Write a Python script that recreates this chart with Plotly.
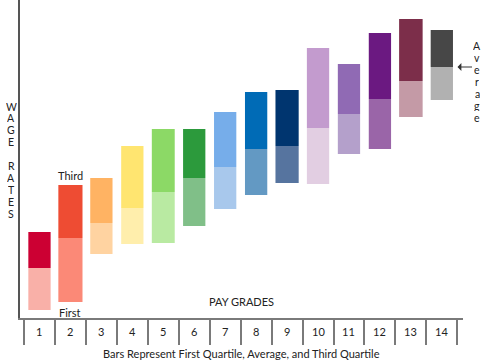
import plotly.graph_objects as go

# ---- data (wage units, arbitrary scale) ----
grades = ["1", "2", "3", "4", "5", "6", "7", "8", "9", "10", "11", "12", "13", "14"]
first_quartile = [8, 16, 64, 74, 75, 92, 109, 123, 135, 134, 164, 169, 201, 218]
average = [50, 80, 95, 110, 126, 140, 151, 169, 172, 190, 204, 219, 237, 251]
third_quartile = [86, 133, 140, 172, 189, 189, 206, 226, 228, 270, 254, 285, 299, 288]

upper_colors = ["#CC0033", "#EE4C33", "#FFB363", "#FFE570", "#8CD966", "#2C9A3C", "#76ADEA",
                "#006BB6", "#00356F", "#C39BCE", "#906AB4", "#6B1981", "#7C2E4A", "#474747"]
lower_colors = ["#F9B0A8", "#FB8977", "#FFD3A1", "#FFEEAC", "#B9EAA2", "#80BF88", "#A8C8EC",
                "#6399C3", "#56749F", "#E2CEE2", "#B4A0CB", "#9A65A8", "#C49AA6", "#B1B1B1"]
bar_widths = [0.72, 0.78, 0.72, 0.72, 0.74, 0.72, 0.72, 0.72, 0.75, 0.72, 0.72, 0.72, 0.76, 0.72]

FONT = "Lato"
TXT = "#222222"

lower_len = [a - f for a, f in zip(average, first_quartile)]
upper_len = [t - a for t, a in zip(third_quartile, average)]

fig = go.Figure()
fig.add_trace(go.Bar(x=grades, y=lower_len, base=first_quartile, width=bar_widths,
                     marker=dict(color=lower_colors, line=dict(width=0)), showlegend=False,
                     hoverinfo="skip"))
fig.add_trace(go.Bar(x=grades, y=upper_len, base=average, width=bar_widths,
                     marker=dict(color=upper_colors, line=dict(width=0)), showlegend=False,
                     hoverinfo="skip"))

W, H = 490, 360
L, R, T, B = 20, 27, 0, 42
pw = W - L - R
ph = H - T - B
catw = 30.95
x0 = -0.5 - 4 / catw
x1 = x0 + pw / catw


def px(xp):
    return (xp - L) / pw


def py(yp):
    return (ph - (yp - T)) / ph


ann = []
# tick labels between boundary ticks (category axis: annotations use the index)
for i, g in enumerate(grades):
    ann.append(dict(x=i, xref="x", y=py(331), yref="paper", text=g, showarrow=False,
                    font=dict(family=FONT, size=11, color=TXT), yanchor="middle"))
# bottom caption
ann.append(dict(x=px(241), xref="paper", y=py(353), yref="paper",
                text="Bars Represent First Quartile, Average, and Third Quartile",
                showarrow=False, font=dict(family=FONT, size=11, color=TXT), yanchor="middle"))
# PAY GRADES
ann.append(dict(x=px(241), xref="paper", y=py(301.5), yref="paper", text="PAY GRADES",
                showarrow=False, font=dict(family=FONT, size=11, color=TXT), yanchor="middle"))
# Third / First labels on grade 2
ann.append(dict(x=1, y=third_quartile[1], text="Third", showarrow=False, yshift=10,
                font=dict(family=FONT, size=11, color=TXT), yanchor="middle"))
ann.append(dict(x=1, y=first_quartile[1], text="First", showarrow=False, yshift=-10,
                font=dict(family=FONT, size=11, color=TXT), yanchor="middle"))
# vertical WAGE RATES
letters = list("WAGE") + [""] + list("RATES")
for i, ch in enumerate(letters):
    if ch:
        ann.append(dict(x=px(11), xref="paper", y=py(106 + 11.9 * i), yref="paper", text=ch,
                        showarrow=False, font=dict(family=FONT, size=10.5, color=TXT),
                        xanchor="center", yanchor="middle", height=11, borderpad=0))
# vertical Average
for i, ch in enumerate("Average"):
    ann.append(dict(x=px(477), xref="paper", y=py(46 + 11.9 * i), yref="paper", text=ch,
                    showarrow=False, font=dict(family=FONT, size=10.5, color=TXT),
                    xanchor="center", yanchor="middle", height=11, borderpad=0))
# arrow pointing to the average of grade 14
ann.append(dict(x=px(457.5), xref="paper", y=average[13], yref="y", ax=16, ay=0, text="",
                showarrow=True, arrowhead=1, arrowsize=1.3, arrowwidth=1, arrowcolor="#333333",
                standoff=0))

fig.update_layout(
    width=W, height=H,
    margin=dict(l=L, r=R, t=T, b=B),
    paper_bgcolor="white", plot_bgcolor="white",
    barmode="overlay",
    annotations=ann,
    xaxis=dict(type="category", range=[x0, x1], showgrid=False, zeroline=False,
               showticklabels=False, ticks="outside", ticklen=25, tickwidth=1.6,
               tickcolor="#7a7a7a", tickson="boundaries", showline=True,
               linecolor="#7a7a7a", linewidth=1.6, fixedrange=True),
    yaxis=dict(range=[0, ph], showgrid=False, zeroline=False, showticklabels=False,
               ticks="", showline=True, linecolor="#555555", linewidth=2, fixedrange=True),
    font=dict(family=FONT),
)

fig.write_html("out.html", config={"displayModeBar": False},
               post_script="document.body.style.margin='0';document.body.style.padding='0';")
